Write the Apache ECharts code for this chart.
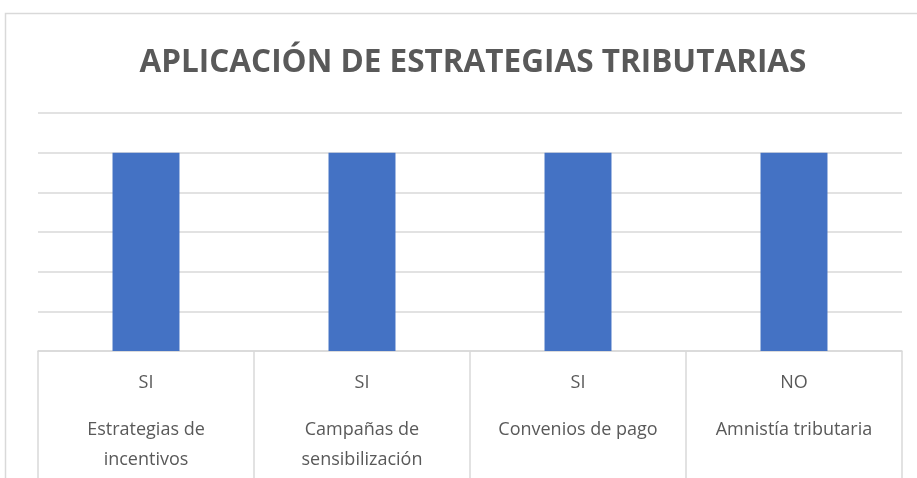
<!DOCTYPE html>
<html><head><meta charset="utf-8">
<script src="https://cdn.jsdelivr.net/npm/echarts@6/dist/echarts.min.js"></script>
<style>html,body{margin:0;padding:0;background:#fff}#c{width:917px;height:478px}</style>
</head><body><div id="c"></div>
<script>
const titleText = 'APLICACIÓN DE ESTRATEGIAS TRIBUTARIAS';
const answers = ['SI', 'SI', 'SI', 'NO'];
const categories = ['Estrategias de\nincentivos', 'Campañas de\nsensibilización', 'Convenios de pago', 'Amnistía tributaria'];
const values = [5, 5, 5, 5];
const yMin = 0, yMax = 6, yInterval = 1;

const chart = echarts.init(document.getElementById('c'), null, {renderer: 'canvas'});
const labels = categories.map((c, i) => answers[i] + '\n' + c);
chart.setOption({
  animation: false,
  backgroundColor: '#fff',
  title: {
    text: titleText, left: 468, top: 42, textAlign: 'center',
    textStyle: {fontFamily: 'Open Sans', fontWeight: 'bold', fontSize: 31.5, color: '#595959'}
  },
  graphic: [{
    type: 'rect', silent: true, z: -1,
    shape: {x: 5.5, y: 13.5, width: 1000, height: 1000},
    style: {fill: 'none', stroke: '#d9d9d9', lineWidth: 1.5}
  }],
  grid: {left: 38, right: 15, top: 113, bottom: 127},
  xAxis: {
    type: 'category', data: labels,
    axisLine: {lineStyle: {color: '#d9d9d9', width: 1.5}},
    axisTick: {show: true, length: 130, lineStyle: {color: '#d9d9d9', width: 1.5}},
    axisLabel: {
      interval: 0, margin: 0, verticalAlign: 'top',
      formatter: function (v) {
        const parts = v.split('\n');
        return '{a|' + parts[0] + '}\n' + parts.slice(1).map(p => '{b|' + p + '}').join('\n');
      },
      rich: {
        a: {fontFamily: 'Open Sans', fontSize: 18, color: '#595959', lineHeight: 64, align: 'center'},
        b: {fontFamily: 'Open Sans', fontSize: 18, color: '#595959', lineHeight: 30, align: 'center'}
      }
    }
  },
  yAxis: {
    type: 'value', min: yMin, max: yMax, interval: yInterval,
    axisLabel: {show: false}, axisLine: {show: false}, axisTick: {show: false},
    splitLine: {lineStyle: {color: '#d9d9d9', width: 1.5}}
  },
  series: [{
    type: 'bar', data: values, barWidth: '31%',
    itemStyle: {color: '#4472C4'}
  }]
});
</script></body></html>
